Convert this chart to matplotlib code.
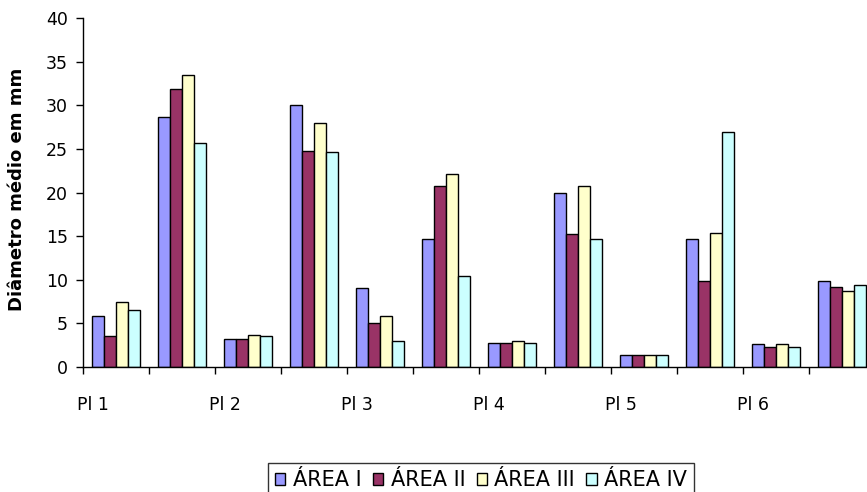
import numpy as np
import matplotlib.pyplot as plt

plt.switch_backend('agg')
# the original text is wide (stretched Arial); DejaVu Sans is the closest width
plt.rcParams['font.family'] = ['DejaVu Sans']

# Values (12 categories, last one cut at the right edge)
area_1 = [5.8, 28.7, 3.2, 30.0, 9.0, 14.7, 2.8, 20.0, 1.4, 14.7, 2.6, 9.9]
area_2 = [3.5, 31.9, 3.2, 24.8, 5.1, 20.7, 2.8, 15.2, 1.4, 9.9, 2.3, 9.2]
area_3 = [7.4, 33.5, 3.7, 28.0, 5.8, 22.1, 3.0, 20.7, 1.4, 15.4, 2.6, 8.75]
area_4 = [6.5, 25.7, 3.5, 24.6, 3.0, 10.4, 2.8, 14.7, 1.4, 26.9, 2.3, 9.4]
series_names = ['ÁREA I', 'ÁREA II', 'ÁREA III', 'ÁREA IV']
tick_labels = ['Pl 1', 'Pl 2', 'Pl 3', 'Pl 4', 'Pl 5', 'Pl 6']

colors = ['#9999FF', '#993366', '#FFFFCC', '#CCFFFF']

fig = plt.figure(figsize=(8.67, 4.92), dpi=100)
# axes runs past the right edge of the figure, like the cropped original
ax = fig.add_axes([83 / 867, 125 / 492, 792 / 867, 349 / 492])

x = np.arange(len(area_1))
width = 0.18
for i, (vals, name) in enumerate(zip([area_1, area_2, area_3, area_4], series_names)):
    ax.bar(x + (i - 1.5) * width, vals, width, color=colors[i], edgecolor='black',
           linewidth=1.0, label=name)

ax.set_xlim(-0.5, len(area_1) - 0.5)
ax.set_ylim(0, 40)
ax.set_yticks(np.arange(0, 41, 5))
ax.tick_params(axis='y', labelsize=12.5, length=5, width=1, direction='out', pad=6)

ax.set_xticks(np.arange(-0.5, len(area_1), 1.0))
ax.set_xticklabels([])
ax.tick_params(axis='x', which='major', length=5, width=1, direction='out')
ax.set_xticks(np.arange(len(tick_labels)) * 2 - 0.35, minor=True)
ax.set_xticklabels(tick_labels, minor=True)
ax.tick_params(axis='x', which='minor', length=0, labelsize=12.5, pad=21)

for s in ['top', 'right']:
    ax.spines[s].set_visible(False)
ax.spines['left'].set_linewidth(1)
ax.spines['bottom'].set_linewidth(1)

ax.set_ylabel('Diâmetro médio em mm', fontsize=13, fontweight='bold')
ax.yaxis.set_label_coords(-57 / 792, 0.51)

# legend box runs off the bottom edge in the original
leg = fig.legend(loc='upper center', bbox_to_anchor=(481 / 867, 1 - 463 / 492), ncol=4,
                 fontsize=15, frameon=True, fancybox=False, edgecolor='black',
                 handlelength=0.5, handleheight=0.5, handletextpad=0.35,
                 columnspacing=0.55, borderpad=0.35, borderaxespad=0)
leg.get_frame().set_linewidth(1)

plt.savefig('out.png', dpi=100)
